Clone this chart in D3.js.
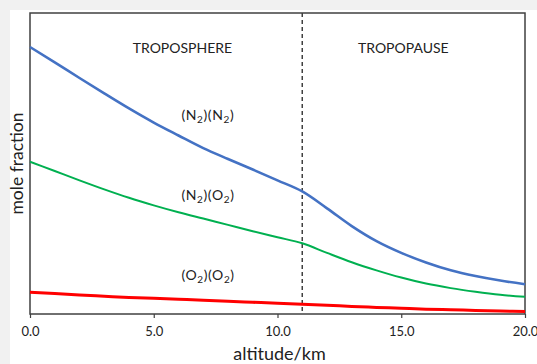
<!DOCTYPE html>
<html>
<head>
<meta charset="utf-8">
<script src="https://cdn.jsdelivr.net/npm/d3@7"></script>
<style>
	body { margin: 0; background: #f1f1f1; }
	svg { display: block; }
	text { font-family: Lato, "Open Sans", sans-serif; fill: #222; }
</style>
</head>
<body>
<div id="chartDiv"></div>
<script>
;(function() {

	var width = 537;
	var height = 364;
	var margin = { top: 13, right: 12, bottom: 50, left: 30 };

	// altitude in km
	var altitude = [0, 1, 2, 3, 4, 5, 6, 7, 8, 9, 10, 11, 12, 13, 14, 15, 16, 17, 18, 19, 20];
	// mole fraction (relative)
	var n2n2 = [0.887, 0.836, 0.784, 0.733, 0.683, 0.636, 0.593, 0.551, 0.515, 0.480, 0.444,
		0.407, 0.351, 0.292, 0.242, 0.203, 0.171, 0.145, 0.126, 0.111, 0.099];
	var n2o2 = [0.506, 0.475, 0.444, 0.414, 0.386, 0.361, 0.338, 0.317, 0.296, 0.275, 0.255,
		0.235, 0.203, 0.172, 0.145, 0.121, 0.101, 0.086, 0.074, 0.064, 0.057];
	var o2o2 = [0.072, 0.068, 0.063, 0.059, 0.055, 0.052, 0.049, 0.046, 0.042, 0.039, 0.036,
		0.032, 0.029, 0.025, 0.022, 0.019, 0.016, 0.014, 0.012, 0.010, 0.008];

	var xTicks = [0, 5, 10, 15, 20];
	var tropopause = 11;
	var regionLabels = ["TROPOSPHERE", "TROPOPAUSE"];
	var xAxisLabelHeader = "altitude/km";
	var yAxisLabelHeader = "mole fraction";

	var series = [
		{ mol: ["N", "N"], values: n2n2, color: "#4472c4", stroke: 2.6, labelY: 0.646 },
		{ mol: ["N", "O"], values: n2o2, color: "#00b050", stroke: 2, labelY: 0.380 },
		{ mol: ["O", "O"], values: o2o2, color: "#ff0000", stroke: 3, labelY: 0.113 }
	];

	var chart, chartWidth, chartHeight;

	init();

	function init() {
		chartWidth = width - margin.left - margin.right;
		chartHeight = height - margin.top - margin.bottom;

		chart = d3.select("#chartDiv").append("svg")
			.attr("width", width)
			.attr("height", height);

		// white chart area on the grey page
		chart.append("rect")
			.attr("x", 10).attr("y", 10)
			.attr("width", width - 10).attr("height", height - 10)
			.attr("fill", "#fff");

		chart.plotArea = chart.append("g")
			.attr("transform", "translate(" + margin.left + "," + margin.top + ")");

		chart.xScale = d3.scaleLinear()
			.domain([0, 20])
			.range([0, chartWidth]);

		chart.yScale = d3.scaleLinear()
			.domain([0, 1])
			.range([chartHeight, 0]);

		createAxes();
		drawLines();
		drawLabels();
	}

	function createAxes() {
		chart.xAxis = d3.axisBottom()
			.scale(chart.xScale)
			.tickValues(xTicks)
			.tickSize(4)
			.tickSizeOuter(0)
			.tickPadding(9)
			.tickFormat(d3.format(".1f"));

		chart.xAxisContainer = chart.append("g")
			.attr("class", "x axis")
			.attr("transform", "translate(" + margin.left + "," + (margin.top + chartHeight) + ")")
			.call(chart.xAxis);

		chart.xAxisContainer.select(".domain").remove();
		chart.xAxisContainer.selectAll("line").attr("stroke", "#404040").attr("stroke-width", 1.2);
		chart.xAxisContainer.selectAll("text")
			.style("font-size", "13px")
			.style("font-family", "Lato, sans-serif")
			.attr("fill", "#222");

		// frame
		chart.plotArea.append("rect")
			.attr("x", 0).attr("y", 0)
			.attr("width", chartWidth).attr("height", chartHeight)
			.attr("fill", "none")
			.attr("stroke", "#404040")
			.attr("stroke-width", 1.5);

		// tropopause divider
		chart.plotArea.append("line")
			.attr("x1", chart.xScale(tropopause)).attr("x2", chart.xScale(tropopause))
			.attr("y1", 0).attr("y2", chartHeight)
			.attr("stroke", "#404040")
			.attr("stroke-width", 1.5)
			.attr("stroke-dasharray", "4,3");

		chart.append("text")
			.style("font-size", "18px")
			.attr("text-anchor", "middle")
			.attr("x", margin.left + chartWidth / 2 + 2)
			.attr("y", 360)
			.text(xAxisLabelHeader);

		chart.append("text")
			.style("font-size", "17.5px")
			.attr("text-anchor", "middle")
			.attr("transform", "translate(23," + (margin.top + chartHeight / 2) + ") rotate(-90)")
			.text(yAxisLabelHeader);
	}

	function drawLines() {
		var line = d3.line()
			.x(function(d) { return chart.xScale(d[0]); })
			.y(function(d) { return chart.yScale(d[1]); })
			.curve(d3.curveMonotoneX);

		chart.plotArea.selectAll(".series")
			.data(series)
			.enter().append("path")
			.attr("class", "series")
			.attr("fill", "none")
			.attr("stroke", function(d) { return d.color; })
			.attr("stroke-width", function(d) { return d.stroke; })
			.attr("stroke-linejoin", "round")
			.attr("d", function(d) { return line(d3.zip(altitude, d.values)); });
	}

	function drawLabels() {
		var regionX = [4.15, 13.25];
		chart.plotArea.selectAll(".region")
			.data(regionLabels)
			.enter().append("text")
			.attr("class", "region")
			.style("font-size", "14px")
			.attr("x", function(d, i) { return chart.xScale(regionX[i]); })
			.attr("y", 40)
			.text(function(d) { return d; });

		var labels = chart.plotArea.selectAll(".mol")
			.data(series)
			.enter().append("text")
			.attr("class", "mol")
			.style("font-size", "14px")
			.style("letter-spacing", "0.6px")
			.attr("x", chart.xScale(6.12))
			.attr("y", function(d) { return chart.yScale(d.labelY); });

		labels.each(function(d) {
			var t = d3.select(this);
			d.mol.forEach(function(m) {
				t.append("tspan").attr("dy", 0).text("(" + m);
				t.append("tspan").attr("dy", 3).style("font-size", "10px").text("2");
				t.append("tspan").attr("dy", -3).text(")");
			});
		});
	}

})();
</script>
</body>
</html>
